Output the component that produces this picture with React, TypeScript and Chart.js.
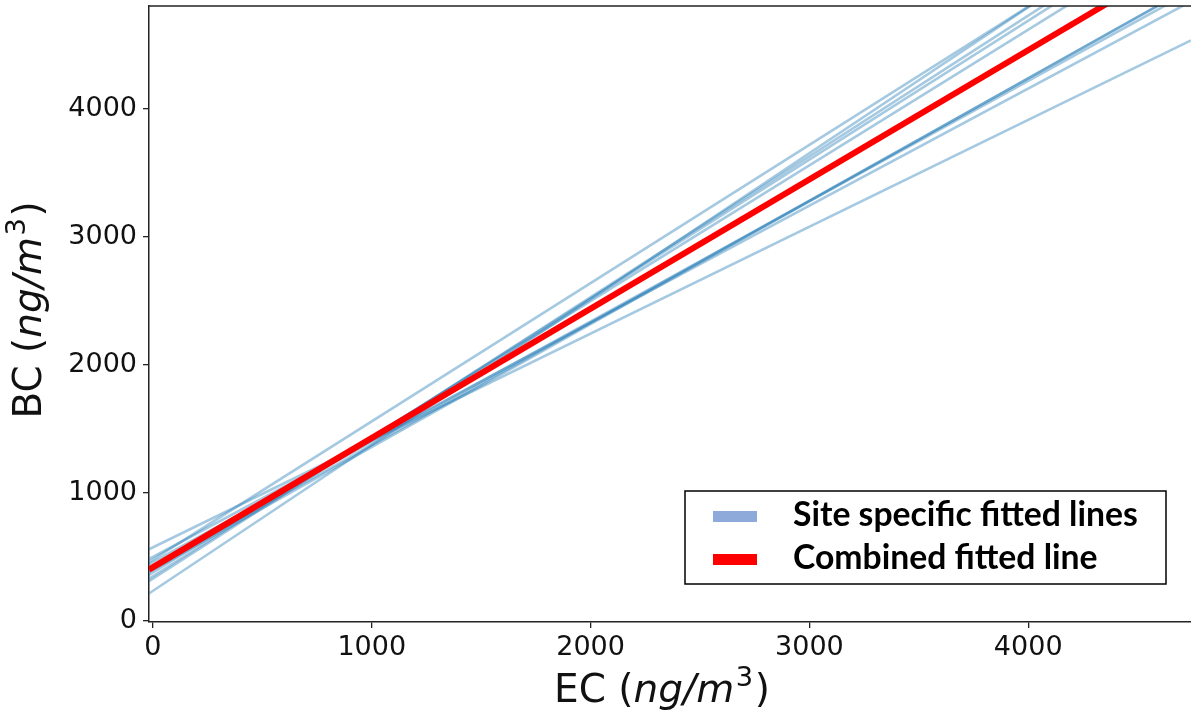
import React, { useEffect, useRef } from "react";
import { Chart, registerables } from "chart.js";

Chart.register(...registerables);

// ---- data ----
const X_TICKS = [0, 1000, 2000, 3000, 4000];
const Y_TICKS = [0, 1000, 2000, 3000, 4000];
const X_MIN = -18;
const X_MAX = 4744;
const Y_MIN = -8;
const Y_MAX = 4805;

// site specific fitted lines: BC = intercept + slope * EC
const SITE_INTERCEPTS = [235, 480, 330, 350, 380, 420, 460, 400, 500, 575];
const SITE_SLOPES = [1.14, 1.08, 1.1, 1.085, 1.06, 0.955, 0.94, 0.96, 0.915, 0.835];

// combined fitted line
const COMBINED_INTERCEPT = 420;
const COMBINED_SLOPE = 1.01;

const LEGEND_LABELS = ["Site specific fitted lines", "Combined fitted line"];
const LEGEND_COLORS = ["#8eaadb", "#ff0000"];

const X_TITLE = [
  { text: "EC (", style: "normal" },
  { text: "ng/m", style: "italic" },
  { text: "3", style: "normal", sup: true },
  { text: ")", style: "normal" },
];
const Y_TITLE = [
  { text: "BC (", style: "normal" },
  { text: "ng/m", style: "italic" },
  { text: "3", style: "normal", sup: true },
  { text: ")", style: "normal" },
];

const TICK_FONT = "DejaVu Sans";
const TITLE_SIZE = 39;

type Piece = { text: string; style: string; sup?: boolean };

function pieceFont(p: Piece, size: number) {
  const s = p.sup ? size * 0.7 : size;
  return `${p.style === "italic" ? "italic " : ""}${s}px "${TICK_FONT}"`;
}

function richWidth(ctx: CanvasRenderingContext2D, pieces: Piece[], size: number) {
  let w = 0;
  for (const p of pieces) {
    ctx.font = pieceFont(p, size);
    w += ctx.measureText(p.text).width + (p.sup ? size * 0.08 : 0);
  }
  return w;
}

function drawRich(ctx: CanvasRenderingContext2D, pieces: Piece[], size: number, x: number, y: number) {
  let cx = x;
  for (const p of pieces) {
    ctx.font = pieceFont(p, size);
    if (p.sup) cx += size * 0.04;
    ctx.fillText(p.text, cx, p.sup ? y - size * 0.42 : y);
    cx += ctx.measureText(p.text).width + (p.sup ? size * 0.04 : 0);
  }
}

const decorPlugin = {
  id: "decor",
  afterDraw(chart: any) {
    const ctx: CanvasRenderingContext2D = chart.ctx;
    const { left, right, top } = chart.chartArea;
    ctx.save();
    // top spine
    ctx.strokeStyle = "#222";
    ctx.lineWidth = 1.5;
    ctx.beginPath();
    ctx.moveTo(left, top);
    ctx.lineTo(right, top);
    ctx.stroke();

    // axis titles
    ctx.fillStyle = "#111";
    ctx.textBaseline = "alphabetic";
    ctx.textAlign = "left";
    const xw = richWidth(ctx, X_TITLE, TITLE_SIZE);
    drawRich(ctx, X_TITLE, TITLE_SIZE, 662 - xw / 2, 702);

    const yw = richWidth(ctx, Y_TITLE, TITLE_SIZE);
    ctx.save();
    ctx.translate(41, 310);
    ctx.rotate(-Math.PI / 2);
    drawRich(ctx, Y_TITLE, TITLE_SIZE, -yw / 2, 0);
    ctx.restore();

    // legend
    const bx = 685, by = 491, bw = 481, bh = 93;
    ctx.fillStyle = "#fff";
    ctx.fillRect(bx, by, bw, bh);
    ctx.strokeStyle = "#000";
    ctx.lineWidth = 1.5;
    ctx.strokeRect(bx, by, bw, bh);

    ctx.font = `bold 27px Lato`;
    const target = 345;
    const m = ctx.measureText(LEGEND_LABELS[0]).width;
    const fs = (27 * target) / m;
    ctx.font = `bold ${fs}px Lato`;
    const rows = [526, 569];
    const swY = [511, 554];
    for (let i = 0; i < LEGEND_LABELS.length; i++) {
      ctx.fillStyle = LEGEND_COLORS[i];
      ctx.fillRect(713, swY[i], 44, 11);
      ctx.fillStyle = "#000";
      ctx.fillText(LEGEND_LABELS[i], 793, rows[i]);
    }
    ctx.restore();
  },
};

function lineData(a: number, b: number) {
  return [
    { x: X_MIN, y: a + b * X_MIN },
    { x: X_MAX, y: a + b * X_MAX },
  ];
}

export default function App() {
  const ref = useRef<HTMLCanvasElement | null>(null);

  useEffect(() => {
    if (!ref.current) return;
    const datasets: any[] = [
      {
        label: LEGEND_LABELS[1],
        data: lineData(COMBINED_INTERCEPT, COMBINED_SLOPE),
        borderColor: "#ff0000",
        borderWidth: 6,
        pointRadius: 0,
        clip: 0,
        order: 0,
      },
      ...SITE_INTERCEPTS.map((a, i) => ({
        label: `site ${i + 1}`,
        data: lineData(a, SITE_SLOPES[i]),
        borderColor: "rgba(31,119,180,0.4)",
        borderWidth: 2.6,
        pointRadius: 0,
        clip: 0,
        order: 1,
      })),
    ];

    const chart = new Chart(ref.current, {
      type: "line",
      data: { datasets },
      plugins: [decorPlugin],
      options: {
        animation: false,
        responsive: false,
        layout: { padding: { top: 6, right: 0, left: 0, bottom: 0 } },
        plugins: { legend: { display: false }, tooltip: { enabled: false } },
        scales: {
          x: {
            type: "linear",
            min: X_MIN,
            max: X_MAX,
            afterBuildTicks: (s: any) => {
              s.ticks = X_TICKS.map((v) => ({ value: v }));
            },
            afterFit: (s: any) => {
              s.height = 95;
              s.paddingLeft = 0;
              s.paddingRight = 0;
            },
            border: { display: true, color: "#222", width: 1.5 },
            grid: { display: true, drawOnChartArea: false, drawTicks: true, tickLength: 6, color: "#222", lineWidth: 1.3 },
            ticks: {
              padding: 4,
              maxRotation: 0,
              color: "#111",
              font: { family: TICK_FONT, size: 27 },
              callback: (v: any) => String(v),
            },
          },
          y: {
            type: "linear",
            min: Y_MIN,
            max: Y_MAX,
            afterBuildTicks: (s: any) => {
              s.ticks = Y_TICKS.map((v) => ({ value: v }));
            },
            afterFit: (s: any) => {
              s.width = 149;
              s.paddingTop = 0;
              s.paddingBottom = 0;
            },
            border: { display: true, color: "#222", width: 1.5 },
            grid: { display: true, drawOnChartArea: false, drawTicks: true, tickLength: 6, color: "#222", lineWidth: 1.3 },
            ticks: {
              padding: 6,
              color: "#111",
              font: { family: TICK_FONT, size: 27 },
              callback: (v: any) => String(v),
            },
          },
        },
      } as any,
    });
    return () => chart.destroy();
  }, []);

  return (
    <div style={{ position: "absolute", left: 0, top: 0, width: 1191, height: 717, background: "#fff" }}>
      <canvas ref={ref} width={1191} height={717} style={{ display: "block" }} />
    </div>
  );
}
